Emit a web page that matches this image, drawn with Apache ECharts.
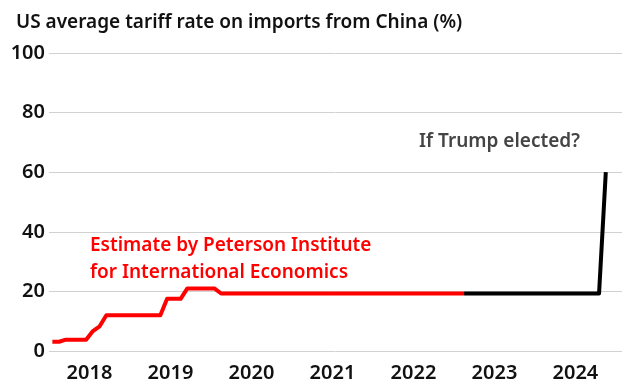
<!DOCTYPE html>
<html>
<head>
<meta charset="utf-8">
<script src="https://cdn.jsdelivr.net/npm/echarts@6/dist/echarts.min.js"></script>
<style>
  html, body { margin: 0; padding: 0; background: #fff; }
  #chart { width: 622px; height: 383px; }
</style>
</head>
<body>
<div id="chart"></div>
<script>
// Monthly breakpoints (YYYY-MM)
const estimateMonths = ['2018-01', '2018-02', '2018-03', '2018-06', '2018-07', '2018-08', '2018-09',
                        '2019-05', '2019-06', '2019-08', '2019-09', '2020-01', '2020-02', '2023-02'];
const estimateValues = [3.1, 3.1, 3.8, 3.8, 6.7, 8.3, 12.0,
                        12.0, 17.5, 17.5, 21.0, 21.0, 19.3, 19.3];

const scenarioMonths = ['2023-02', '2024-10', '2024-11'];
const scenarioValues = [19.3, 19.3, 60];

const yearLabels = [2018, 2019, 2020, 2021, 2022, 2023, 2024];

const FONT = "'Noto Sans', sans-serif";

// month string -> decimal year, placed mid-month
function toYear(m) {
    const [y, mo] = m.split('-').map(Number);
    return y + (mo - 0.5) / 12;
}

function pairs(months, values) {
    return months.map((m, i) => [toYear(m), values[i]]);
}

let chart = echarts.init(document.getElementById('chart'));

chart.setOption({
    animation: false,
    textStyle: { fontFamily: FONT },
    title: {
        text: 'US average tariff rate on imports from China (%)',
        left: 11,
        top: 8,
        textStyle: { fontFamily: FONT, fontSize: 19, fontWeight: 600, color: '#111' }
    },
    grid: { left: 49, right: 0, top: 53, bottom: 28, containLabel: false },
    xAxis: {
        type: 'value',
        min: 2018,
        max: 2025.075,
        axisLine: { show: false },
        axisTick: { show: false },
        splitLine: { show: false },
        axisLabel: {
            // year labels sit at mid-year
            customValues: yearLabels.map(y => y + 0.5),
            formatter: v => String(Math.floor(v)),
            margin: 12,
            fontFamily: FONT,
            fontSize: 20,
            fontWeight: 600,
            color: '#111'
        }
    },
    yAxis: {
        type: 'value',
        min: 0,
        max: 100,
        interval: 20,
        axisLine: { show: false },
        axisTick: { show: false },
        splitLine: { lineStyle: { color: '#d2d2d2', width: 1 } },
        axisLabel: {
            margin: 4,
            fontFamily: FONT,
            fontSize: 20,
            fontWeight: 600,
            color: '#111'
        }
    },
    graphic: [
        {
            type: 'text',
            left: 90,
            top: 232,
            style: {
                text: 'Estimate by Peterson Institute\nfor International Economics',
                font: "600 19px 'Noto Sans', sans-serif",
                lineHeight: 27,
                fill: '#ff0000'
            }
        },
        {
            type: 'text',
            left: 419,
            top: 132,
            style: {
                text: 'If Trump elected?',
                font: "600 19px 'Noto Sans', sans-serif",
                fill: '#444'
            }
        }
    ],
    series: [
        {
            name: 'Estimate',
            type: 'line',
            data: pairs(estimateMonths, estimateValues),
            showSymbol: false,
            lineStyle: { color: '#ff0000', width: 4, join: 'round' },
            z: 3
        },
        {
            name: 'If Trump elected',
            type: 'line',
            data: pairs(scenarioMonths, scenarioValues),
            showSymbol: false,
            lineStyle: { color: '#000000', width: 4, join: 'round' },
            z: 2
        }
    ]
});

window.addEventListener('resize', function () {
    chart?.resize();
});
</script>
</body>
</html>
